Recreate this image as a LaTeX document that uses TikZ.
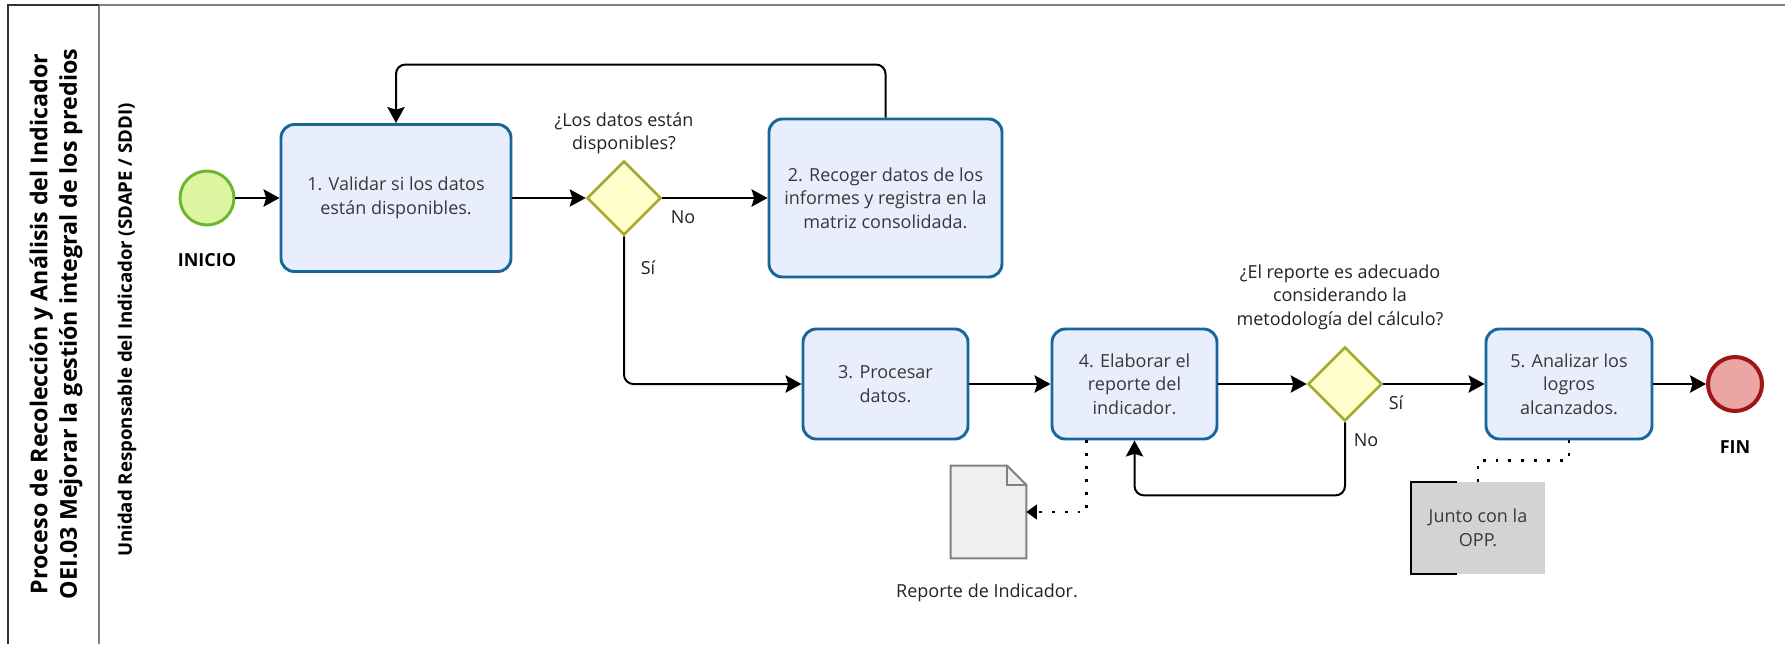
\documentclass[tikz,border=0pt]{standalone}
\usepackage{fontspec}
\setmainfont{Open Sans}
\usetikzlibrary{arrows.meta,shapes.geometric,calc}
\definecolor{taskfill}{HTML}{E9EEFD}
\definecolor{taskline}{HTML}{17679A}
\definecolor{gwfill}{HTML}{FFFFCC}
\definecolor{gwline}{HTML}{A9A92E}
\definecolor{startfill}{HTML}{DCF5A0}
\definecolor{startline}{HTML}{6DB52A}
\definecolor{endfill}{HTML}{ECA5A5}
\definecolor{endline}{HTML}{9E1515}
\definecolor{docfill}{HTML}{EFEFEF}
\definecolor{docline}{HTML}{808080}
\definecolor{notefill}{HTML}{D3D3D3}
\definecolor{txt}{HTML}{383838}
\definecolor{lbl}{HTML}{222222}
\definecolor{pooldark}{HTML}{333333}
\definecolor{poolgray}{HTML}{7F7F7F}
\begin{document}
\begin{tikzpicture}[x=0.75pt,y=-0.75pt,
  base/.style={font=\fontsize{13.5pt}{17.6pt}\selectfont},
  task/.style={base,rectangle,rounded corners=10pt,draw=taskline,fill=taskfill,line width=2.2pt,
    text=txt,align=center,inner sep=2pt},
  gateway/.style={diamond,aspect=1,draw=gwline,fill=gwfill,line width=2pt,minimum width=55.5pt,minimum height=55.5pt,inner sep=0pt},
  startev/.style={circle,draw=startline,fill=startfill,line width=2.2pt,minimum size=40.5pt,inner sep=0pt},
  endev/.style={circle,draw=endline,fill=endfill,line width=3pt,minimum size=40.5pt,inner sep=0pt},
  lbltxt/.style={base,text=lbl,align=center,inner sep=0pt},
  evlabel/.style={font=\fontsize{13.5pt}{17pt}\selectfont\bfseries,text=black,inner sep=0pt},
  flow/.style={draw=black,line width=1.5pt,-{Stealth[length=12pt,width=13pt,inset=2pt]},rounded corners=7pt},
  assoc/.style={draw=black,line width=2.2pt,dash pattern=on 2.2pt off 7.5pt},
]
\useasboundingbox (0,0) rectangle (1785,644);
% pool and lane
\draw[poolgray,line width=1.6pt] (99,5) -- (1785,5);
\draw[poolgray,line width=1.6pt] (99,5) -- (99,644);
\draw[pooldark,line width=1.8pt] (8,644) -- (8,5) -- (99,5);
\node[rotate=90,font=\fontsize{17.4pt}{22pt}\selectfont\bfseries,align=center,text=black] (pool) at (56,324)
  {Proceso de Recolección y Análisis del Indicador\\OEI.03 Mejorar la gestión integral de los predios};
\node[rotate=90,font=\fontsize{14pt}{17pt}\selectfont\bfseries,text=black] (lane) at (127,330)
  {Unidad Responsable del Indicador (SDAPE / SDDI)};

% events
\node[startev] (start) at (207,198) {};
\node[evlabel] (startlbl) at (207,260) {INICIO};
\node[endev] (fin) at (1735,384) {};
\node[evlabel] (finlbl) at (1735,447) {FIN};

% tasks
\node[task,minimum width=172.5pt,minimum height=110.25pt] (t1) at (396,198) {1. Validar si los datos\\están disponibles.};
\node[task,minimum width=174.75pt,minimum height=118.5pt] (t2) at (885.5,198) {2. Recoger datos de los\\informes y registra en la\\matriz consolidada.};
\node[task,minimum width=123.75pt,minimum height=82.5pt] (t3) at (885.5,384) {3. Procesar\\datos.};
\node[task,minimum width=123.75pt,minimum height=82.5pt] (t4) at (1134.5,384) {4. Elaborar el\\reporte del\\indicador.};
\node[task,minimum width=124.5pt,minimum height=82.5pt] (t5) at (1569,384) {5. Analizar los\\logros\\alcanzados.};

% gateways
\node[gateway] (g1) at (624,198) {};
\node[gateway] (g2) at (1345,384) {};
\node[lbltxt] (g1lbl) at (624,133) {¿Los datos están\\disponibles?};
\node[lbltxt] (g2lbl) at (1340,297) {¿El reporte es adecuado\\considerando la\\metodología del cálculo?};

% data object
\node[minimum width=56.25pt,minimum height=69pt,inner sep=0pt] (doc) at (988.5,512) {};
\draw[draw=docline,fill=docfill,line width=1.5pt]
  (doc.north west) -- ($(doc.north east)+(-19,0)$) -- ($(doc.north east)+(0,19)$) -- (doc.south east) -- (doc.south west) -- cycle;
\draw[draw=docline,line width=1.5pt] ($(doc.north east)+(-19,0)$) -- ($(doc.north east)+(-19,19)$) -- ($(doc.north east)+(0,19)$);
\node[lbltxt] (doclbl) at (987,593) {Reporte de Indicador.};

% annotation
\node[base,fill=notefill,text=txt,align=center,minimum width=100.5pt,minimum height=69pt,inner sep=0pt] (note) at (1478,528) {Junto con la\\OPP.};
\draw[black,line width=1.2pt] ($(note.north west)+(46,0)$) -- (note.north west) -- (note.south west) -- ($(note.south west)+(46,0)$);

% flows
\draw[flow] (start) -- (t1);
\draw[flow] (t1) -- (g1);
\draw[flow] (g1.east) -- (t2.west);
\draw[flow] (t2.north) -- ++(0,-53) -| (t1.north);
\draw[flow] (g1.south) |- (t3.west);
\draw[flow] (t3) -- (t4);
\draw[flow] (t4.east) -- (g2.west);
\draw[flow] (g2.east) -- (t5.west);
\draw[flow] (t5) -- (fin);
\draw[flow] (g2.south) -- ++(0,73) -| (t4.south);

% associations
\draw[assoc,-{Triangle[length=8pt,width=11pt]}] ($(t4.south west)+(36,0)$) |- (doc.east);
\draw[assoc] (t5.south) -- ++(0,20) -| (note.north);

% flow labels
\node[lbltxt] (no1) at (683,217) {No};
\node[lbltxt] (si1) at (648,268) {Sí};
\node[lbltxt] (si2) at (1396,403) {Sí};
\node[lbltxt] (no2) at (1366,440) {No};
\end{tikzpicture}
\end{document}
